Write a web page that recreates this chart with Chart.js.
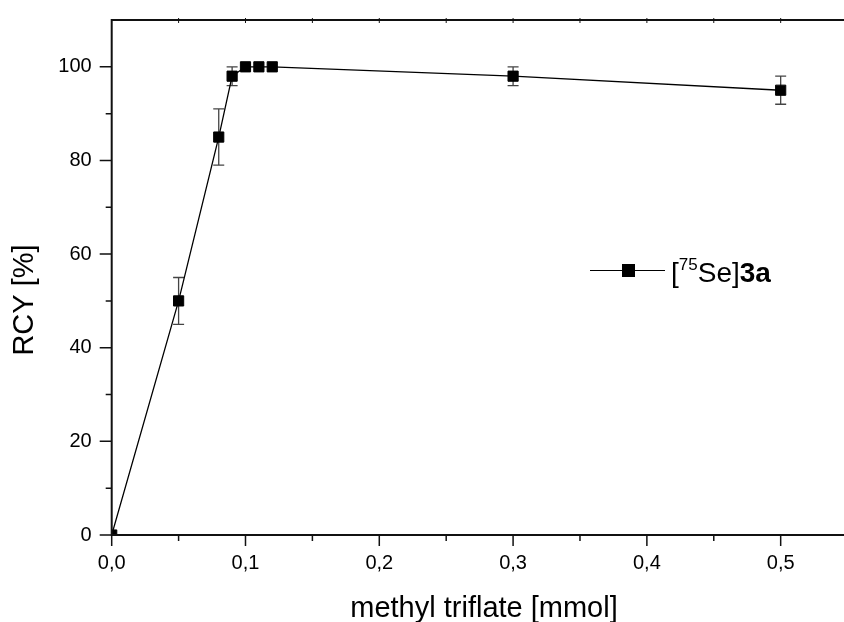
<!DOCTYPE html>
<html>
<head>
<meta charset="utf-8">
<script src="https://cdn.jsdelivr.net/npm/chart.js@4/dist/chart.umd.min.js"></script>
<style>
  body { margin: 0; background: #fff; }
  #wrap { position: relative; width: 844px; height: 622px; }
  #legend .leg-line { position: absolute; left: 590px; top: 269.5px; width: 75px; height: 1.4px; background: #000; }
  #legend .leg-mark { position: absolute; left: 621.5px; top: 263.5px; width: 13px; height: 13px; background: #000; }
  #legend .leg-text { position: absolute; left: 671px; top: 259px; font: 28px "Liberation Sans", Arial, sans-serif; line-height: 28px; color: #000; white-space: nowrap; }
  #legend .sup { font-size: 17px; position: relative; top: -12px; }
</style>
</head>
<body>
<div id="wrap">
  <canvas id="rcyChart" width="844" height="622"></canvas>
  <div id="legend">
    <div class="leg-line"></div>
    <div class="leg-mark"></div>
    <div class="leg-text">[<span class="sup">75</span>Se]<b>3a</b></div>
  </div>
</div>
<script>
const amounts = [0, 0.05, 0.08, 0.09, 0.10, 0.11, 0.12, 0.30, 0.50];
const rcy = [0, 50, 85, 98, 100, 100, 100, 98, 95];
const rcyErr = [0, 5, 6, 2, 0, 0, 0, 2, 3];
const xTicks = [0, 0.1, 0.2, 0.3, 0.4, 0.5];
const xMinorTicks = [0.05, 0.15, 0.25, 0.35, 0.45];
const yTicks = [0, 20, 40, 60, 80, 100];
const yMinorTicks = [10, 30, 50, 70, 90];
const xTitle = "methyl triflate [mmol]";
const yTitle = "RCY [%]";

const fontFamily = '"Liberation Sans", Arial, sans-serif';

// error bars, drawn under the markers
const errorBars = {
    id: "errorBars",
    beforeDatasetsDraw(chart) {
        let ctx = chart.ctx;
        let xs = chart.scales.x, ys = chart.scales.y;
        ctx.save();
        ctx.strokeStyle = "#444";
        ctx.lineWidth = 1.3;
        amounts.forEach((a, i) => {
            if (!rcyErr[i]) return;
            let px = xs.getPixelForValue(a);
            let top = ys.getPixelForValue(rcy[i] + rcyErr[i]);
            let bot = ys.getPixelForValue(rcy[i] - rcyErr[i]);
            ctx.beginPath();
            ctx.moveTo(px, top); ctx.lineTo(px, bot);
            ctx.moveTo(px - 5.5, top); ctx.lineTo(px + 5.5, top);
            ctx.moveTo(px - 5.5, bot); ctx.lineTo(px + 5.5, bot);
            ctx.stroke();
        });
        ctx.restore();
    }
};

// frame with origin-style ticks (major + minor), plus axis titles
const axesFrame = {
    id: "axesFrame",
    afterDatasetsDraw(chart) {
        let ctx = chart.ctx;
        let area = chart.chartArea;
        let xs = chart.scales.x, ys = chart.scales.y;
        ctx.save();
        ctx.strokeStyle = "#111";
        ctx.lineWidth = 2;
        ctx.beginPath();
        ctx.moveTo(area.left, area.top); ctx.lineTo(area.left, area.bottom);
        ctx.moveTo(area.left - 1, area.bottom); ctx.lineTo(chart.width, area.bottom);
        ctx.moveTo(area.left - 1, area.top); ctx.lineTo(chart.width, area.top);
        ctx.stroke();

        ctx.lineWidth = 1.5;
        ctx.beginPath();
        yTicks.forEach(v => { let p = ys.getPixelForValue(v); ctx.moveTo(area.left - 12, p); ctx.lineTo(area.left, p); });
        yMinorTicks.forEach(v => { let p = ys.getPixelForValue(v); ctx.moveTo(area.left - 6, p); ctx.lineTo(area.left, p); });
        xTicks.forEach(v => { let p = xs.getPixelForValue(v); ctx.moveTo(p, area.bottom); ctx.lineTo(p, area.bottom + 11); });
        xMinorTicks.forEach(v => { let p = xs.getPixelForValue(v); ctx.moveTo(p, area.bottom); ctx.lineTo(p, area.bottom + 6); });
        ctx.stroke();

        ctx.lineWidth = 1;
        ctx.beginPath();
        xTicks.concat(xMinorTicks).forEach(v => {
            let p = xs.getPixelForValue(v);
            if (p <= area.left + 1) return;
            ctx.moveTo(p, area.top - 2); ctx.lineTo(p, area.top + 3);
        });
        ctx.stroke();

        // titles (the reference has them off the plot centre)
        ctx.fillStyle = "#000";
        ctx.font = "29px " + fontFamily;
        ctx.textAlign = "center";
        ctx.textBaseline = "alphabetic";
        ctx.fillText(xTitle, 484, 617);
        ctx.translate(33, 300);
        ctx.rotate(-Math.PI / 2);
        ctx.fillText(yTitle, 0, 0);
        ctx.restore();
    }
};

let chartContext = document.getElementById("rcyChart").getContext("2d");
new Chart(chartContext, {
    type: "scatter",
    data: {
        datasets: [{
            label: "[75Se]3a",
            data: amounts.map((a, i) => ({x: a, y: rcy[i]})),
            showLine: true,
            borderColor: "#000",
            borderWidth: 1.3,
            backgroundColor: "#000",
            pointStyle: "rect",
            pointRadius: 7.2,
            pointBorderWidth: 1,
            pointBorderColor: "#000",
            pointBackgroundColor: "#000",
            clip: 0
        }]
    },
    options: {
        responsive: false,
        animation: false,
        layout: {padding: {top: 18, right: 0, left: 0, bottom: 0}},
        plugins: {legend: {display: false}, tooltip: {enabled: false}},
        scales: {
            x: {
                type: "linear",
                min: 0,
                max: 0.5412,
                border: {display: false},
                grid: {display: false, drawTicks: true, tickLength: 11},
                afterBuildTicks: s => { s.ticks = xTicks.map(v => ({value: v})); },
                afterFit: s => { s.height = 87; },
                ticks: {
                    padding: 5,
                    color: "#000",
                    maxRotation: 0,
                    autoSkip: false,
                    font: {family: fontFamily, size: 20},
                    callback: v => Number(v).toFixed(1).replace(".", ",")
                }
            },
            y: {
                type: "linear",
                min: 0,
                max: 110,
                border: {display: false},
                grid: {display: false, drawTicks: true, tickLength: 12},
                afterBuildTicks: s => { s.ticks = yTicks.map(v => ({value: v})); },
                afterFit: s => { s.width = 111.7; },
                ticks: {
                    padding: 8,
                    color: "#000",
                    font: {family: fontFamily, size: 20}
                }
            }
        }
    },
    plugins: [errorBars, axesFrame]
});
</script>
</body>
</html>
